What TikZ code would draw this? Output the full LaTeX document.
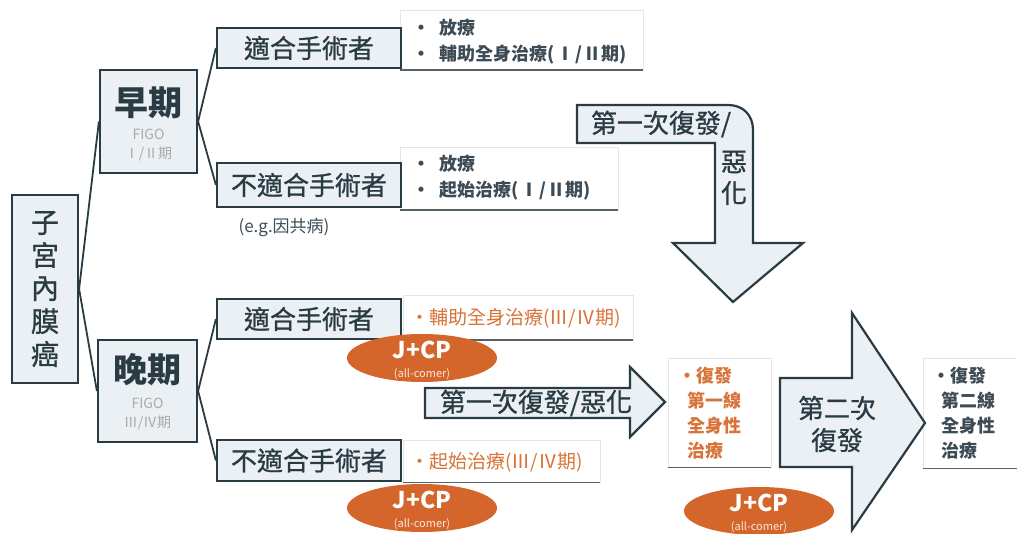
\documentclass[tikz,border=0pt]{standalone}
\usepackage{fontspec}
\setmainfont{Noto Sans CJK TC}
\newfontfamily\medfont{Noto Sans CJK TC}[FakeBold=0.9]
\definecolor{dk}{HTML}{2A3B44}
\definecolor{boxfill}{HTML}{EAF0F3}
\definecolor{org}{HTML}{D5662B}
\definecolor{orgtxt}{HTML}{D8743A}
\definecolor{gtxt}{HTML}{ABABAB}
\definecolor{btxt}{HTML}{3D4B55}
\tikzset{
  gbox/.style={draw=dk, line width=2.2pt, fill=boxfill, inner sep=0pt, rectangle, text=dk},
  wbox/.style={fill=white, draw=gray!20, line width=0.6pt, inner sep=0pt, rectangle},
  botline/.style={draw=dk!80, line width=1.6pt},
  conn/.style={draw=dk, line width=1.8pt},
  bigarrow/.style={draw=dk, line width=2.2pt, fill=boxfill, line join=miter},
  oval/.style={ellipse, fill=org, draw=none, inner sep=0pt},
  ttl/.style={text=dk, font=\medfont\fontsize{26}{30}\selectfont, inner sep=0pt},
  bul/.style={text=btxt, font=\bfseries\fontsize{18}{26}\selectfont, inner sep=0pt, anchor=west, align=left},
  obul/.style={text=orgtxt, font=\fontsize{19}{25}\selectfont, inner sep=0pt, anchor=west, align=left},
}
\usetikzlibrary{shapes.geometric}
\begin{document}
\begin{tikzpicture}[x=1pt,y=-1pt]
\useasboundingbox[fill=white] (0,0) rectangle (1017,534);

% white bullet boxes
\node[wbox, minimum width=243pt, minimum height=60pt] (b1) at (521.5,40) {};
\node[wbox, minimum width=218pt, minimum height=63pt] (b2) at (509,178.5) {};
\node[wbox, minimum width=230pt, minimum height=45pt] (ob1) at (518,317.5) {};
\node[wbox, minimum width=197pt, minimum height=42pt] (ob2) at (501.5,461) {};
\node[wbox, minimum width=103pt, minimum height=109pt] (rb1) at (719.5,412.5) {};
\node[wbox, minimum width=94pt, minimum height=110pt] (rb2) at (970,413) {};
\foreach \b in {b1,b2,ob1,ob2,rb1,rb2} \draw[botline] (\b.south west) -- (\b.south east);

\node[bul] (b1t) at (412,42) {•\hspace{9pt}放療\\•\hspace{9pt}輔助全身治療(\hspace{2pt}Ⅰ\hspace{1pt}/\hspace{1pt}Ⅱ期)};
\node[bul] (b2t) at (412,178) {•\hspace{9pt}放療\\•\hspace{9pt}起始治療(\hspace{2pt}Ⅰ\hspace{1pt}/\hspace{1pt}Ⅱ期)};
\node[obul] (ob1t) at (410,318) {•輔助全身治療(Ⅲ/Ⅳ期)};
\node[obul] (ob2t) at (410,462) {•起始治療(Ⅲ/Ⅳ期)};
\node[obul, font=\bfseries\fontsize{18}{25}\selectfont] (rb1t) at (678,413) {•復發\\\hspace{9pt}第一線\\\hspace{9pt}全身性\\\hspace{9pt}治療};
\node[bul, font=\bfseries\fontsize{18}{25}\selectfont] (rb2t) at (932,413) {•復發\\\hspace{9pt}第二線\\\hspace{9pt}全身性\\\hspace{9pt}治療};

% boxes
\node[gbox, minimum width=66pt, minimum height=188pt, align=center, font=\medfont\fontsize{28}{33}\selectfont] (uterus) at (45,289) {子\\宮\\內\\膜\\癌};
\node[gbox, minimum width=97pt, minimum height=103pt] (early) at (148.5,121.5) {};
\node[gbox, minimum width=99pt, minimum height=102pt] (late) at (147.5,391) {};
\node[gbox, minimum width=184pt, minimum height=40pt, font=\medfont\fontsize{26}{30}\selectfont] (s1) at (309,48) {適合手術者};
\node[gbox, minimum width=184pt, minimum height=44pt, font=\medfont\fontsize{26}{30}\selectfont] (n1) at (309,185) {不適合手術者};
\node[gbox, minimum width=184pt, minimum height=40pt, font=\medfont\fontsize{26}{30}\selectfont] (s2) at (309,319) {適合手術者};
\node[gbox, minimum width=184pt, minimum height=41pt, font=\medfont\fontsize{26}{30}\selectfont] (n2) at (309,460.5) {不適合手術者};

% connectors
\draw[conn] (uterus.east) -- (early.west);
\draw[conn] (uterus.east) -- (late.west);
\draw[conn] (early.east) -- (s1.west);
\draw[conn] (early.east) -- (n1.west);
\draw[conn] (late.east) -- (s2.west);
\draw[conn] (late.east) -- (n2.west);

\node[text=dk, font=\bfseries\fontsize{34}{36}\selectfont, inner sep=0pt] (earlyT) at (148.5,103) {早期};
\node[text=gtxt, font=\fontsize{14}{15}\selectfont, inner sep=0pt] (earlyF) at (148.5,134) {FIGO};
\node[text=gtxt, font=\fontsize{14}{15}\selectfont, inner sep=0pt] (earlyS) at (148.5,154) {Ⅰ/Ⅱ期};
\node[text=dk, font=\bfseries\fontsize{34}{36}\selectfont, inner sep=0pt] (lateT) at (147.5,370) {晚期};
\node[text=gtxt, font=\fontsize{14}{15}\selectfont, inner sep=0pt] (lateF) at (147.5,403) {FIGO};
\node[text=gtxt, font=\fontsize{14}{15}\selectfont, inner sep=0pt] (lateS) at (147.5,423) {Ⅲ/Ⅳ期};

\node[text=btxt, font=\fontsize{17}{20}\selectfont, inner sep=0pt] (eg) at (284,227) {(e.g.因共病)};

% bent arrow
\draw[bigarrow] (577,143) -- (577,105) -- (728,105) .. controls (743,105) and (753,115) .. (753,130)
  -- (753,243) -- (803,243) -- (733,302) -- (673,243) -- (715,243) -- (715,143) -- cycle;
\node[ttl] (ba1) at (661,124) {第一次復發/};
\node[ttl] (ba2) at (734,162) {惡};
\node[ttl] (ba3) at (734,193) {化};

% horizontal arrow
\draw[bigarrow] (425,388) -- (630,388) -- (630,367) -- (665,402) -- (630,437) -- (630,418) -- (425,418) -- cycle;
\node[ttl] (ha) at (536,403) {第一次復發/惡化};

% big arrow
\draw[bigarrow] (780,378) -- (852,378) -- (852,313) -- (925,423) -- (852,530) -- (852,467) -- (780,467) -- cycle;
\node[ttl, align=center, font=\medfont\fontsize{26}{32}\selectfont] (sa) at (837,424) {第二次\\復發};

% ovals
\foreach \n/\cx/\cy in {o1/422/358, o2/422/508, o3/759/511}{
  \node[oval, minimum width=150pt, minimum height=48pt] (\n) at (\cx,\cy) {};
  \node[text=white, font=\bfseries\fontsize{23}{25}\selectfont, inner sep=0pt] (\n j) at (\cx,\cy-8) {J+CP};
  \node[text=white!85!org, font=\fontsize{11}{12}\selectfont, inner sep=0pt] (\n a) at (\cx,\cy+16) {(all-comer)};
}
\end{tikzpicture}
\end{document}
